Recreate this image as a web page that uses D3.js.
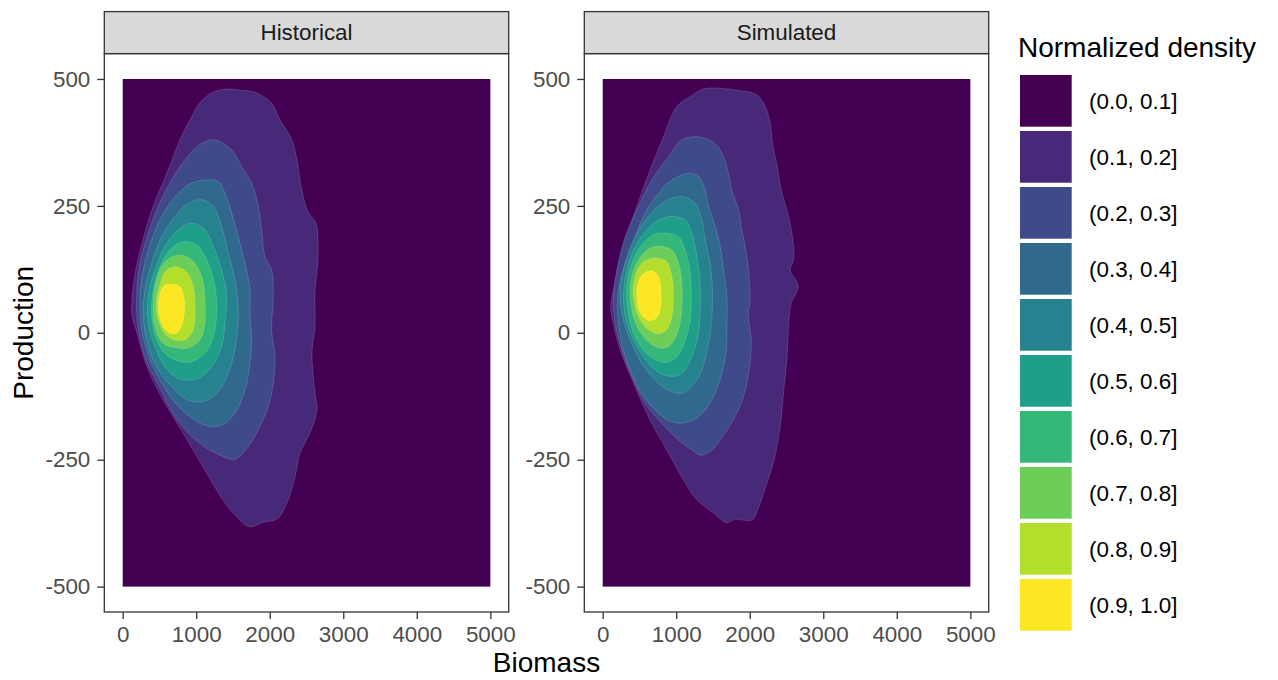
<!DOCTYPE html>
<html>
<head>
<meta charset="utf-8">
<title>Normalized density</title>
<script src="https://d3js.org/d3.v7.min.js"></script>
<style>
  body { margin: 0; background: #fff; }
  text { font-family: "Liberation Sans", Arial, Helvetica, sans-serif; }
</style>
</head>
<body>
<div id="chart"></div>
<script>
// ---- data ----
const facets = ["Historical", "Simulated"];
const bandLabels = ["(0.0, 0.1]", "(0.1, 0.2]", "(0.2, 0.3]", "(0.3, 0.4]", "(0.4, 0.5]",
                    "(0.5, 0.6]", "(0.6, 0.7]", "(0.7, 0.8]", "(0.8, 0.9]", "(0.9, 1.0]"];
const xTicks = [0, 1000, 2000, 3000, 4000, 5000];
const yTicks = [-500, -250, 0, 250, 500];
const gridBiomass = [0, 5000];      // extent of the density grid
const gridProduction = [-500, 500];

// contour rings [biomass, production], levels 0.1 .. 0.9
const hist01 = [[1391,480],[1595,478],[1799,474],[1976,459],[2058,445],[2139,419],[2289,384],[2370,341],[2411,301],[2466,262],[2520,238],[2629,216],[2656,183],[2656,144],[2615,79],[2615,12],[2574,-40],[2615,-118],[2642,-152],[2547,-197],[2411,-237],[2343,-284],[2234,-335],[2098,-367],[1908,-373],[1731,-382],[1554,-363],[1364,-329],[1092,-264],[820,-197],[548,-132],[330,-67],[194,0],[126,35],[126,65],[154,104],[208,144],[276,183],[412,248],[602,315],[779,380],[915,419],[1051,453],[1214,473]];
const hist02 = [[1255,380],[1482,360],[1618,327],[1754,295],[1844,249],[1890,203],[1935,150],[2026,124],[2048,71],[2026,6],[2071,-47],[2048,-99],[1980,-145],[1844,-191],[1708,-224],[1527,-249],[1323,-241],[1119,-225],[915,-201],[711,-165],[507,-109],[317,-53],[215,6],[190,71],[235,137],[348,196],[484,249],[666,301],[847,341],[1074,373]];
const hist03 = [[1119,301],[1300,298],[1391,275],[1482,236],[1572,189],[1663,137],[1731,84],[1731,32],[1754,-8],[1731,-60],[1663,-113],[1527,-158],[1391,-178],[1255,-185],[1119,-182],[983,-172],[756,-145],[530,-99],[371,-53],[258,6],[235,71],[280,124],[394,183],[530,229],[711,268],[938,295]];
const hist04 = [[1074,262],[1232,249],[1346,209],[1436,157],[1527,104],[1572,45],[1550,-8],[1482,-60],[1346,-106],[1164,-132],[983,-136],[847,-129],[666,-106],[484,-73],[348,-27],[280,32],[303,84],[394,137],[530,189],[711,229],[892,255]];
const hist05 = [[938,216],[1119,203],[1232,170],[1346,124],[1414,71],[1391,19],[1346,-27],[1210,-67],[1028,-90],[892,-93],[756,-90],[575,-67],[439,-27],[348,19],[348,71],[439,124],[575,170],[756,203]];
const hist06 = [[847,180],[1028,170],[1164,137],[1255,91],[1278,39],[1232,-8],[1119,-40],[938,-57],[802,-57],[598,-44],[462,-14],[394,32],[416,84],[507,130],[666,167]];
const hist07 = [[756,153],[938,144],[1074,111],[1119,65],[1119,19],[1051,-14],[892,-30],[756,-30],[552,-21],[439,12],[416,58],[462,104],[575,140]];
const hist08 = [[711,130],[870,120],[960,91],[983,45],[960,6],[847,-14],[711,-14],[575,-2],[484,25],[460,65],[507,94],[575,120]];
const hist09 = [[666,96],[779,91],[838,65],[824,25],[756,2],[666,-2],[552,12],[484,45],[507,78],[575,94]];

const sim01 = [[1326,478],[1462,482],[1825,478],[2097,469],[2210,446],[2278,413],[2312,370],[2369,331],[2428,281],[2523,232],[2595,173],[2595,144],[2550,124],[2659,91],[2564,58],[2527,12],[2505,-53],[2459,-118],[2414,-185],[2332,-250],[2224,-300],[2128,-341],[2033,-369],[1915,-369],[1802,-367],[1689,-374],[1507,-355],[1281,-329],[1099,-290],[873,-231],[646,-172],[419,-99],[238,-34],[125,32],[109,55],[147,84],[283,170],[465,249],[646,321],[827,386],[1009,446],[1190,465]];
const sim02 = [[1303,386],[1530,373],[1643,347],[1711,314],[1757,281],[1847,242],[1893,203],[1938,170],[1983,124],[2006,71],[1983,32],[2020,-14],[1992,-73],[1915,-126],[1775,-172],[1598,-211],[1462,-234],[1326,-241],[1213,-231],[1031,-211],[805,-178],[578,-139],[397,-86],[261,-34],[170,19],[147,71],[193,124],[306,189],[487,249],[669,301],[895,347],[1077,380]];
const sim03 = [[1167,314],[1303,308],[1394,281],[1439,249],[1530,209],[1598,170],[1643,124],[1689,71],[1689,19],[1680,-34],[1625,-77],[1530,-118],[1394,-152],[1231,-172],[1054,-178],[891,-172],[714,-152],[524,-118],[374,-73],[265,-24],[204,35],[215,84],[306,137],[442,189],[578,236],[759,275],[941,301]];
const sim04 = [[1099,268],[1258,255],[1349,222],[1394,183],[1462,137],[1493,84],[1485,32],[1439,-21],[1349,-73],[1213,-106],[1077,-119],[895,-113],[714,-93],[533,-60],[374,-14],[261,39],[238,84],[306,137],[442,189],[623,229],[805,255],[941,265]];
const sim05 = [[941,229],[1122,222],[1213,196],[1281,150],[1326,98],[1326,45],[1303,-1],[1213,-47],[1077,-80],[941,-86],[782,-80],[623,-60],[465,-27],[329,19],[283,71],[329,124],[442,170],[601,203],[759,222]];
const sim06 = [[873,196],[1031,189],[1122,163],[1190,117],[1204,71],[1190,25],[1122,-14],[1009,-47],[873,-58],[714,-53],[555,-34],[419,-1],[343,45],[329,91],[397,137],[533,173],[691,193]];
const sim07 = [[805,170],[941,163],[1031,137],[1077,98],[1077,52],[1040,12],[963,-17],[850,-30],[714,-27],[555,-8],[432,25],[374,71],[397,111],[487,144],[646,167]];
const sim08 = [[737,147],[873,140],[941,111],[963,71],[941,32],[873,6],[759,-2],[623,6],[487,32],[419,71],[442,111],[533,137],[623,145]];
const sim09 = [[669,122],[759,111],[796,78],[782,45],[714,27],[623,24],[510,39],[465,71],[487,101],[555,117]];

const contours = [
  [hist01, hist02, hist03, hist04, hist05, hist06, hist07, hist08, hist09],
  [sim01, sim02, sim03, sim04, sim05, sim06, sim07, sim08, sim09]
];

// ---- style ----
const fills = ["#440154", "#482878", "#3E4A89", "#31688E", "#26828E",
               "#1F9E89", "#35B779", "#6DCD59", "#B4DE2C", "#FDE725"];
const small = "22.4px", big = "28px";

const svgw = 1278, svgh = 680;
const panel = { top: 53.6, w: 404.4, h: 558.4, lefts: [104.3, 584.3], strip: 42 };

const svg = d3.select("#chart").append("svg")
  .attr("width", svgw).attr("height", svgh);

const x = d3.scaleLinear().domain([-250, 5250]).range([0, panel.w]);
const y = d3.scaleLinear().domain([-550, 550]).range([panel.h, 0]);

const ring = d3.line()
  .x(d => x(d[0]))
  .y(d => y(d[1]))
  .curve(d3.curveCatmullRomClosed.alpha(0.5));

facets.forEach((name, i) => {
  const g = svg.append("g")
    .attr("transform", `translate(${panel.lefts[i]},${panel.top})`);

  g.append("rect").attr("width", panel.w).attr("height", panel.h).attr("fill", "#fff");

  // lowest band covers the whole grid
  g.append("rect")
    .attr("x", x(gridBiomass[0]))
    .attr("y", y(gridProduction[1]))
    .attr("width", x(gridBiomass[1]) - x(gridBiomass[0]))
    .attr("height", y(gridProduction[0]) - y(gridProduction[1]))
    .attr("fill", fills[0]);

  g.selectAll("path.band")
    .data(contours[i])
    .join("path")
    .attr("class", "band")
    .attr("d", ring)
    .attr("fill", (d, k) => fills[k + 1])
    .attr("stroke", "rgba(255,255,255,0.22)")
    .attr("stroke-width", 0.7);

  g.append("rect")
    .attr("width", panel.w).attr("height", panel.h)
    .attr("fill", "none").attr("stroke", "#333333").attr("stroke-width", 1.3);

  // plain hyphen for negatives, like the original
  const xa = g.append("g")
    .attr("transform", `translate(0,${panel.h})`)
    .call(d3.axisBottom(x).tickValues(xTicks).tickSize(7).tickPadding(7).tickFormat(d => String(d)));
  const ya = g.append("g")
    .call(d3.axisLeft(y).tickValues(yTicks).tickSize(7).tickPadding(7).tickFormat(d => String(d)));

  [xa, ya].forEach(a => {
    a.select(".domain").remove();
    a.selectAll(".tick line").attr("stroke", "#333333").attr("stroke-width", 1.3);
    a.selectAll(".tick text")
      .attr("fill", "#4D4D4D")
      .style("font-size", small)
      .style("font-family", '"Liberation Sans", Arial, sans-serif');
  });

  // strip
  g.append("rect")
    .attr("y", -panel.strip).attr("width", panel.w).attr("height", panel.strip)
    .attr("fill", "#D9D9D9").attr("stroke", "#333333").attr("stroke-width", 1.3);
  g.append("text")
    .attr("x", panel.w / 2).attr("y", -panel.strip / 2)
    .attr("dy", "0.35em")
    .attr("text-anchor", "middle")
    .attr("fill", "#1A1A1A")
    .style("font-size", small)
    .text(name);
});

// axis titles
svg.append("text")
  .attr("x", (panel.lefts[0] + panel.lefts[1] + panel.w) / 2)
  .attr("y", 672)
  .attr("text-anchor", "middle")
  .style("font-size", big)
  .text("Biomass");

svg.append("text")
  .attr("transform", `translate(33,${panel.top + panel.h / 2}) rotate(-90)`)
  .attr("text-anchor", "middle")
  .style("font-size", big)
  .text("Production");

// legend
const lg = svg.append("g").attr("transform", "translate(1020,0)");
lg.append("text")
  .attr("x", -2).attr("y", 57)
  .style("font-size", big)
  .text("Normalized density");

const keys = lg.selectAll("g.key")
  .data(bandLabels)
  .join("g")
  .attr("class", "key")
  .attr("transform", (d, k) => `translate(0,${75 + 56 * k})`);

keys.append("rect")
  .attr("width", 51.7).attr("height", 51.7)
  .attr("fill", (d, k) => fills[k]);

keys.append("text")
  .attr("x", 69).attr("y", 26)
  .attr("dy", "0.35em")
  .style("font-size", small)
  .text(d => d);
</script>
</body>
</html>
